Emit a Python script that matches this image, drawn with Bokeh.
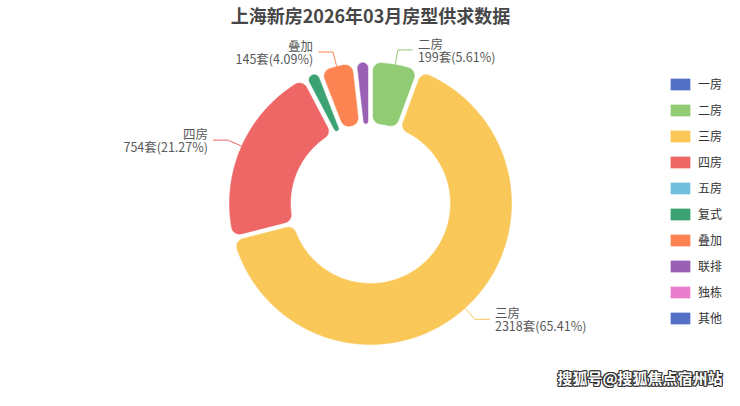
import numpy as np
from bokeh.plotting import figure
from bokeh.models import ColumnDataSource, Range1d, Legend, LegendItem
from bokeh.embed import file_html
from bokeh.resources import INLINE
from bokeh.core.properties import value

# ---------------- data ----------------
title_text = "上海新房2026年03月房型供求数据"
categories = ["一房", "二房", "三房", "四房", "五房", "复式", "叠加", "联排", "独栋", "其他"]
counts = [0, 199, 2318, 754, 0, 64, 145, 64, 0, 0]
colors = ["#5470c6", "#91cc75", "#fac858", "#ee6666", "#73c0de",
          "#3ba272", "#fc8452", "#9a60b4", "#ea7ccc", "#5470c6"]
unit = "套"
watermark = "搜狐号@搜狐焦点宿州站"

# ---------------- layout ----------------
W, H = 724, 390
CX, CY = 370, H - 203
R_OUT, R_IN = 141, 80
GAP = 2.5
CORNER = 8.0
FONT = "Noto Sans CJK SC"
MIN_LABEL_DEG = 10


def percents(vals, digits=2):
    total = sum(vals)
    scale = 10 ** digits
    raw = [v / total * 100 * scale for v in vals]
    fl = [int(np.floor(x)) for x in raw]
    rem = [x - f for x, f in zip(raw, fl)]
    left = 100 * scale - sum(fl)
    order = sorted(range(len(vals)), key=lambda i: -rem[i])
    for i in order[:left]:
        fl[i] += 1
    return [f / scale for f in fl]


def arc(cx, cy, r, a0, a1, n):
    t = np.linspace(a0, a1, max(n, 2))
    return list(cx + r * np.cos(t)), list(cy + r * np.sin(t))


def rounded_sector(s, e):
    """s < e, math angles in radians (ccw)."""
    h = (e - s) / 2
    sh = np.sin(min(h, np.pi / 2))
    d = GAP
    cro = min(CORNER, max(0.0, (R_OUT * sh - d) / (1 + sh)), (R_OUT - R_IN) / 2)
    cri = min(CORNER, max(0.0, (R_IN * sh - d) / (1 - sh)) if sh < 1 else CORNER,
              (R_OUT - R_IN) / 2)
    us = np.array([np.cos(s), np.sin(s)]); ns = np.array([-np.sin(s), np.cos(s)])
    ue = np.array([np.cos(e), np.sin(e)]); ne = np.array([np.sin(e), -np.cos(e)])
    rho_o = np.sqrt((R_OUT - cro) ** 2 - (d + cro) ** 2)
    rho_i = np.sqrt((R_IN + cri) ** 2 - (d + cri) ** 2)
    co_s = rho_o * us + (d + cro) * ns
    co_e = rho_o * ue + (d + cro) * ne
    ci_e = rho_i * ue + (d + cri) * ne
    ci_s = rho_i * us + (d + cri) * ns
    po_s = s + np.arcsin((d + cro) / (R_OUT - cro))
    po_e = e - np.arcsin((d + cro) / (R_OUT - cro))
    pi_e = e - np.arcsin((d + cri) / (R_IN + cri))
    pi_s = s + np.arcsin((d + cri) / (R_IN + cri))
    xs, ys = [], []
    segs = [
        (co_s[0], co_s[1], cro, s - np.pi / 2, po_s, 10),
        (0.0, 0.0, R_OUT, po_s, po_e, int(abs(po_e - po_s) * 60) + 2),
        (co_e[0], co_e[1], cro, po_e, e + np.pi / 2, 10),
        (ci_e[0], ci_e[1], cri, e + np.pi / 2, pi_e + np.pi, 10),
        (0.0, 0.0, R_IN, pi_e, pi_s, int(abs(pi_e - pi_s) * 40) + 2),
        (ci_s[0], ci_s[1], cri, pi_s + np.pi, s + 1.5 * np.pi, 10),
    ]
    for cx, cy, r, a0, a1, n in segs:
        ax, ay = arc(CX + cx, CY + cy, r, a0, a1, n)
        xs += ax; ys += ay
    return xs, ys


total = sum(counts)
pcts = percents(counts)

xs_all, ys_all = [], []
lab_name, lab_val, lab_x, lab_y, lab_align = [], [], [], [], []
line_xs, line_ys, line_col = [], [], []
cum = 0.0
for cat, v, pc, col in zip(categories, counts, pcts, colors):
    span = v / total * 360.0
    c0, c1 = cum, cum + span  # clockwise degrees from top
    cum = c1
    if v <= 0:
        xs_all.append([]); ys_all.append([])
        continue
    s = np.radians(90 - c1); e = np.radians(90 - c0)
    x, y = rounded_sector(s, e)
    xs_all.append(x); ys_all.append(y)
    if span >= MIN_LABEL_DEG:
        m = np.radians(90 - (c0 + c1) / 2)
        dx, dy = np.cos(m), np.sin(m)
        p1 = (CX + R_OUT * dx, CY + R_OUT * dy)
        p2 = (CX + (R_OUT + 15) * dx, CY + (R_OUT + 15) * dy)
        side = 1 if dx >= 0 else -1
        p3 = (p2[0] + side * 15, p2[1])
        line_xs.append([p1[0], p2[0], p3[0]])
        line_ys.append([p1[1], p2[1], p3[1]])
        line_col.append(col)
        lab_name.append(cat)
        lab_val.append(f"{v}{unit}({pc:.2f}%)")
        lab_x.append(p3[0] + side * 5)
        lab_y.append(p3[1])
        lab_align.append("left" if side > 0 else "right")

p = figure(width=W, height=H, output_backend="svg", toolbar_location=None,
           x_range=Range1d(0, W), y_range=Range1d(0, H), min_border=0,
           outline_line_color=None, background_fill_color="white")
p.axis.visible = False
p.grid.visible = False

src = ColumnDataSource(dict(xs=xs_all, ys=ys_all, color=colors, name=categories))
wedges = p.patches("xs", "ys", source=src, fill_color="color", line_color="color",
                   line_width=0.5)

p.multi_line(xs=line_xs, ys=line_ys, line_color=line_col, line_width=1)

lsrc = ColumnDataSource(dict(x=lab_x, y=lab_y, name=lab_name, val=lab_val, align=lab_align))
p.text(x="x", y="y", text="name", source=lsrc, y_offset=-6.5, text_align="align",
       text_baseline="middle", text_font=value(FONT), text_font_size="12.5px",
       text_color="#595959")
p.text(x="x", y="y", text="val", source=lsrc, y_offset=6.5, text_align="align",
       text_baseline="middle", text_font=value(FONT), text_font_size="12.5px",
       text_color="#595959")

# title
p.text(x=[W / 2 + 8], y=[H - 14], text=[title_text], text_align="center",
       text_baseline="middle", text_font=value(FONT), text_font_size="18px",
       text_font_style="bold", text_color="#464646")

# watermark (white with dark outline)
wx, wy = 722, 13
for ox in (-1, 0, 1):
    for oy in (-1, 0, 1):
        if ox == 0 and oy == 0:
            continue
        p.text(x=[wx], y=[wy], text=[watermark], x_offset=ox, y_offset=oy,
               text_align="right", text_baseline="middle", text_font=value(FONT),
               text_font_size="15px", text_font_style="bold", text_color="#333333")
p.text(x=[wx], y=[wy], text=[watermark], text_align="right", text_baseline="middle",
       text_font=value(FONT), text_font_size="15px", text_font_style="bold",
       text_color="white")

items = [LegendItem(label=c, renderers=[wedges], index=i) for i, c in enumerate(categories)]
legend = Legend(items=items, location=(668, 64), orientation="vertical",
                glyph_width=24, glyph_height=14, label_height=14, spacing=9,
                label_standoff=6, padding=0, margin=0, border_line_color=None,
                background_fill_alpha=0, label_text_font=FONT,
                label_text_font_size="12px", label_text_color="#333333")
p.add_layout(legend)

open("out.html", "w").write(file_html(p, INLINE))
